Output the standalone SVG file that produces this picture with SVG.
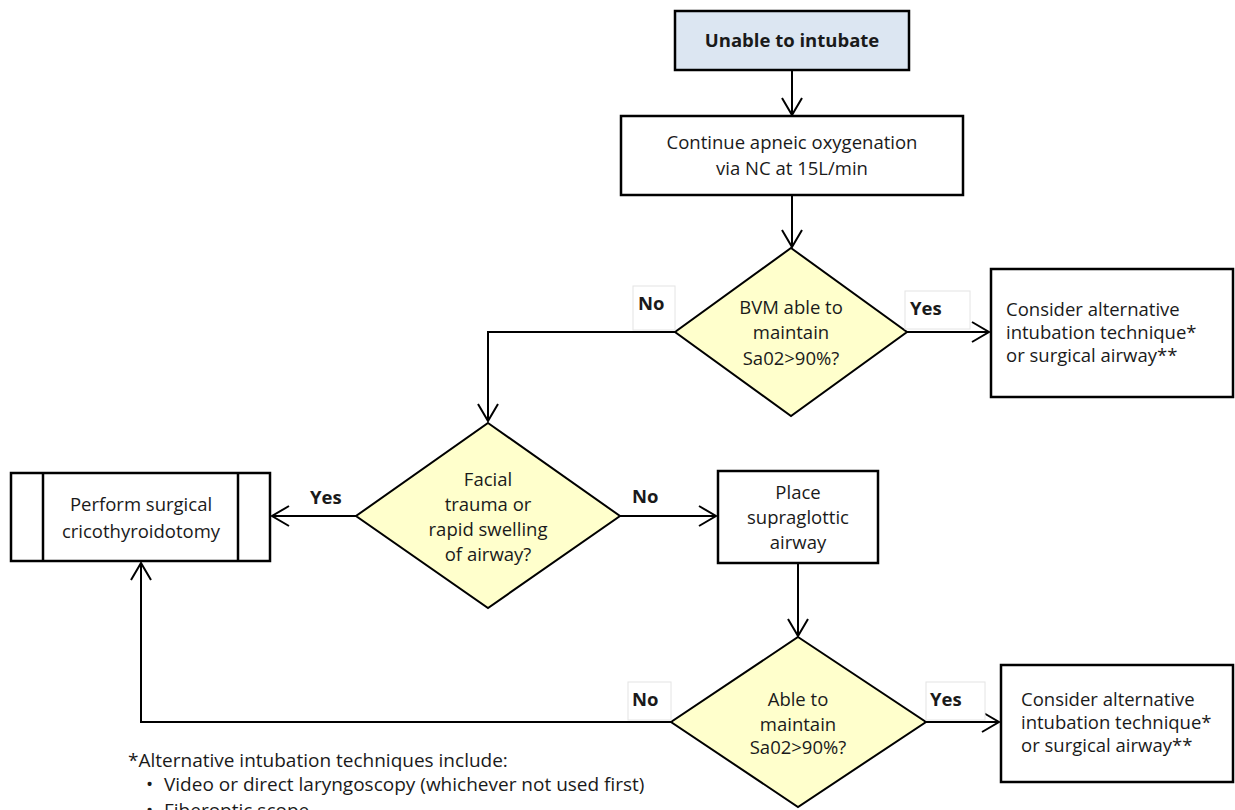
<svg xmlns="http://www.w3.org/2000/svg" width="1235" height="810" viewBox="0 0 1235 810">
<style>
text{font-family:"Open Sans","Liberation Sans",sans-serif;font-size:18.5px;fill:#1a1a1a}
.b{font-weight:bold}
.c{text-anchor:middle}
.fn{font-size:19px}
.box{fill:#fff;stroke:#000;stroke-width:2.5}
.dia{fill:#ffffcc;stroke:#000;stroke-width:2}
.lbl{fill:#fff;stroke:#e4e4e4;stroke-width:1}
.conn{fill:none;stroke:#000;stroke-width:2}
</style>
<defs>
<marker id="arr" markerUnits="userSpaceOnUse" viewBox="-20 -12 22 24" refX="0" refY="0" markerWidth="22" markerHeight="24" orient="auto">
<path d="M-17,-10 L0,0 L-17,10" fill="none" stroke="#000" stroke-width="2"/>
</marker>
</defs>
<rect width="1235" height="810" fill="#fff"/>
<g id="connectors">
<path class="conn" d="M792,70 V115" marker-end="url(#arr)"/>
<path class="conn" d="M792,195 V247" marker-end="url(#arr)"/>
<path class="conn" d="M675,332 H488 V421" marker-end="url(#arr)"/>
<path class="conn" d="M907,332 H989" marker-end="url(#arr)"/>
<path class="conn" d="M356,516 H272" marker-end="url(#arr)"/>
<path class="conn" d="M620,516 H716" marker-end="url(#arr)"/>
<path class="conn" d="M798,563 V636" marker-end="url(#arr)"/>
<path class="conn" d="M926,722 H999" marker-end="url(#arr)"/>
<path class="conn" d="M671,722 H141 V563" marker-end="url(#arr)"/>
</g>
<g id="n-unable">
<rect x="675" y="11" width="234" height="59" fill="#dce6f2" stroke="#000" stroke-width="2.5"/>
<text class="b c" x="792" y="47">Unable to intubate</text>
</g>
<g id="n-continue">
<rect class="box" x="621" y="116" width="342" height="79"/>
<text class="c" x="792" y="149">Continue apneic oxygenation</text>
<text class="c" x="792" y="175">via NC at 15L/min</text>
</g>
<g id="n-bvm">
<polygon class="dia" points="791,248 907,332 791,416 675,332"/>
<text class="c" x="791" y="314">BVM able to</text>
<text class="c" x="791" y="339">maintain</text>
<text class="c" x="791" y="365">Sa02&gt;90%?</text>
</g>
<g id="l-bvm-no">
<rect class="lbl" x="633" y="286" width="42" height="44"/>
<text class="b" x="638" y="310">No</text>
</g>
<g id="l-bvm-yes">
<rect class="lbl" x="905" y="291" width="65" height="38"/>
<text class="b" x="910" y="315">Yes</text>
</g>
<g id="n-consider1">
<rect class="box" x="991" y="269" width="242" height="128"/>
<text x="1006" y="316">Consider alternative</text>
<text x="1006" y="339">intubation technique*</text>
<text x="1006" y="362">or surgical airway**</text>
</g>
<g id="n-facial">
<polygon class="dia" points="488,423 620,516 488,608 356,516"/>
<text class="c" x="488" y="486">Facial</text>
<text class="c" x="488" y="511">trauma or</text>
<text class="c" x="488" y="536">rapid swelling</text>
<text class="c" x="488" y="561">of airway?</text>
</g>
<g id="l-facial-yes">
<text class="b" x="310" y="504">Yes</text>
</g>
<g id="l-facial-no">
<text class="b" x="632" y="503">No</text>
</g>
<g id="n-crico">
<rect class="box" x="11" y="473" width="259" height="88"/>
<line x1="43" y1="473" x2="43" y2="561" stroke="#000" stroke-width="2.5"/>
<line x1="238" y1="473" x2="238" y2="561" stroke="#000" stroke-width="2.5"/>
<text class="c" x="141" y="511">Perform surgical</text>
<text class="c" x="141" y="538">cricothyroidotomy</text>
</g>
<g id="n-supra">
<rect class="box" x="718" y="471" width="160" height="92"/>
<text class="c" x="798" y="499">Place</text>
<text class="c" x="798" y="524">supraglottic</text>
<text class="c" x="798" y="549">airway</text>
</g>
<g id="n-able">
<polygon class="dia" points="798,637 926,722 798,807 671,722"/>
<text class="c" x="798" y="706">Able to</text>
<text class="c" x="798" y="731">maintain</text>
<text class="c" x="798" y="754">Sa02&gt;90%?</text>
</g>
<g id="l-able-no">
<rect class="lbl" x="628" y="682" width="43" height="38"/>
<text class="b" x="632" y="706">No</text>
</g>
<g id="l-able-yes">
<rect class="lbl" x="926" y="682" width="59" height="38"/>
<text class="b" x="930" y="706">Yes</text>
</g>
<g id="n-consider2">
<rect class="box" x="1001" y="665" width="232" height="117"/>
<text x="1021" y="706">Consider alternative</text>
<text x="1021" y="729">intubation technique*</text>
<text x="1021" y="752">or surgical airway**</text>
</g>
<g id="footnote">
<text class="fn" x="128" y="767">*Alternative intubation techniques include:</text>
<text class="fn" x="146" y="791">•  </text>
<text class="fn" x="164" y="791">Video or direct laryngoscopy (whichever not used first)</text>
<text class="fn" x="146" y="817">•</text>
<text class="fn" x="164" y="817">Fiberoptic scope</text>
</g>
</svg>
